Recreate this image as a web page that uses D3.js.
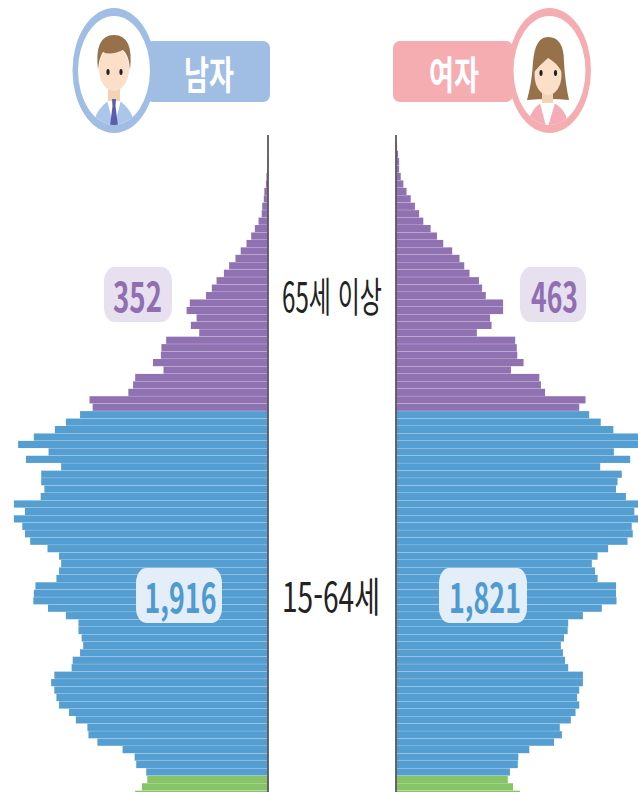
<!DOCTYPE html>
<html lang="ko">
<head>
<meta charset="utf-8">
<script src="https://cdn.jsdelivr.net/npm/d3@7"></script>
<style>html,body{margin:0;padding:0;background:#fff;overflow:hidden}svg{display:block}</style>
</head>
<body>
<script>
// Population by single row of the pyramid (thousands), top of the chart to bottom.
const maleOld = [0,1,1,3,4,7,8,11,12,18,25,32,41,52,62,74,84,98,107,118,149,155,136,147,131,194,203,204,219,199,253,257,266,340,334];
const maleWork = [358,385,406,446,476,418,461,394,432,432,426,433,484,463,484,468,463,453,420,398,394,398,403,443,446,447,419,385,361,361,355,352,358,372,374,407,413,407,403,398,379,366,344,342,325,277,254,251,232];
const maleYoung = [230,240,253];
const femaleOld = [2,4,6,6,9,14,20,28,36,44,52,66,78,90,107,121,130,140,158,164,171,204,204,179,182,154,227,230,231,243,219,273,276,284,361,349];
const femaleWork = [368,390,414,470,480,415,446,389,430,422,419,438,470,454,470,449,451,441,404,384,373,379,384,419,419,420,392,356,328,327,320,314,318,322,328,356,356,349,345,349,342,333,312,316,301,254,233,232,217];
const femaleYoung = [213,223,236];
const maleLabel = "남자", femaleLabel = "여자";
const groupLabels = ["65세 이상", "15-64세"];
const maleTotals = ["352", "1,916"];
const femaleTotals = ["463", "1,821"];

(function(){
const W = 638, H = 792;
const colors = {old:"#9071b2", work:"#549ed2", young:"#87c467"};
const svg = d3.select("body").append("svg").attr("width",W).attr("height",H);
const font = "'Noto Sans CJK KR','Noto Sans',sans-serif";

const maleOldPad = [0].concat(maleOld);
const mk = (o,w,y)=>[...o.map(v=>({v,g:"old"})),...w.map(v=>({v,g:"work"})),...y.map(v=>({v,g:"young"}))];
const maleRows = mk(maleOldPad,maleWork,maleYoung);
const femaleRows = mk(femaleOld,femaleWork,femaleYoung);

const pitch = 7.44, yTop = 411 - femaleOld.length*pitch;
const y = d3.scaleBand().domain(d3.range(maleRows.length))
  .range([yTop, yTop + maleRows.length*pitch]).paddingInner(0.035).paddingOuter(0);
const xM = d3.scaleLinear().domain([0,500]).range([268, 268-262.5]);
const xF = d3.scaleLinear().domain([0,500]).range([396, 396+262.5]);

svg.append("g").selectAll("rect").data(maleRows).join("rect")
  .attr("x",d=>xM(d.v)).attr("y",(d,i)=>y(i)).attr("width",d=>xM(0)-xM(d.v))
  .attr("height",y.bandwidth()).attr("fill",d=>colors[d.g]);
svg.append("g").selectAll("rect").data(femaleRows).join("rect")
  .attr("x",xF(0)).attr("y",(d,i)=>y(i)).attr("width",d=>xF(d.v)-xF(0))
  .attr("height",y.bandwidth()).attr("fill",d=>colors[d.g]);

[xM(0),xF(0)].forEach(x=>svg.append("line").attr("x1",x).attr("x2",x).attr("y1",135).attr("y2",H)
  .attr("stroke","#5c5660").attr("stroke-width",1.8));

// Text stretched to a target box, as the reference picture is stretched vertically
function fit(str,cx,cy,targetW,size,fill,weight,sy){
  const t = svg.append("text").text(str).attr("font-family",font).attr("font-size",size)
    .attr("font-weight",weight).attr("fill",fill).attr("text-anchor","middle").attr("dominant-baseline","central");
  const b = t.node().getBBox();
  t.attr("transform",`translate(${cx},${cy}) scale(${targetW/b.width},${sy})`);
}
function badge(x,yy,w,h,fill){
  svg.append("rect").attr("x",x).attr("y",yy).attr("width",w).attr("height",h).attr("rx",10).attr("ry",15).attr("fill",fill);
}
badge(104,267,68,55,"#e7e0ee");
badge(520,267,66,55,"#e7e0ee");
badge(136,568,86,55,"#e3eef8");
badge(439,568,88,55,"#e3eef8");
fit(maleTotals[0],137.5,294,49,27,"#8f6fb1",700,1.5);
fit(femaleTotals[0],554.5,294,47,27,"#8f6fb1",700,1.5);
fit(maleTotals[1],180.5,595,72,27,"#4f9bd0",700,1.5);
fit(femaleTotals[1],485,595,72,27,"#4f9bd0",700,1.5);
fit(groupLabels[0],332,294,100,27,"#222",400,1.5);
fit(groupLabels[1],331,595,98,27,"#222",400,1.5);

// Header
const blue="#a0bde3", pink="#f6adb2", skin="#fbdfc8", hair="#96714a";
svg.append("rect").attr("x",146).attr("y",41).attr("width",124).attr("height",61).attr("rx",7).attr("fill",blue);
svg.append("rect").attr("x",393).attr("y",41).attr("width",120).attr("height",61).attr("rx",7).attr("fill",pink);
fit(maleLabel,209,72,50,25,"#fff",700,1.55);
fit(femaleLabel,454,72,50,25,"#fff",700,1.55);

const defs = svg.append("defs");
function ring(id,cx,col){
  svg.append("ellipse").attr("cx",cx).attr("cy",70.5).attr("rx",41.5).attr("ry",62.5).attr("fill",col);
  svg.append("ellipse").attr("cx",cx).attr("cy",70.5).attr("rx",36).attr("ry",54.5).attr("fill","#fff");
  defs.append("clipPath").attr("id",id).append("ellipse").attr("cx",cx).attr("cy",70.5).attr("rx",36).attr("ry",54.5);
  return svg.append("g").attr("clip-path",`url(#${id})`);
}
const m = ring("cm",114,blue);
m.append("path").attr("d","M92,135 L94,121 Q97,109 108,101 L120,101 Q131,109 134,121 L136,135 Z").attr("fill","#aac6ea");
m.append("path").attr("d","M107,100 L114,128 L121,100 Z").attr("fill","#fff");
m.append("rect").attr("x",108).attr("y",86).attr("width",12).attr("height",15).attr("fill","#f4d2b6");
m.append("ellipse").attr("cx",114).attr("cy",69).attr("rx",15).attr("ry",22).attr("fill",skin);
m.append("path").attr("d","M98,70 Q94,35 114,35 Q134,35 130,70 Q129,55 123,50 Q110,56 103,52 Q99,58 98,70 Z").attr("fill",hair);
m.append("path").attr("d","M112,99 L116,99 L115.5,106 L118,126 L114,132 L110,126 L112.5,106 Z").attr("fill","#5b5ea8");
[108,121].forEach(x=>m.append("ellipse").attr("cx",x).attr("cy",72).attr("rx",1.6).attr("ry",3).attr("fill","#222"));

const f = ring("cf",549.5,pink);
f.append("path").attr("d","M527,100 Q532,82 533,62 Q535,37 548,37 Q564,37 564,62 Q565,82 569,100 Q560,99 550,99 Q537,99 527,100 Z").attr("fill",hair);
f.append("path").attr("d","M527,135 L530,116 Q535,106 541,103 L554,103 Q562,107 566,116 L569,135 Z").attr("fill","#f4adb7");
f.append("path").attr("d","M540,103 L547,130 L555,103 Z").attr("fill","#fff");
f.append("rect").attr("x",542).attr("y",88).attr("width",11).attr("height",15).attr("fill","#f4d2b6");
f.append("ellipse").attr("cx",548).attr("cy",75).attr("rx",13.5).attr("ry",20).attr("fill",skin);
f.append("path").attr("d","M534,72 Q534,52 548,52 Q562,52 562,72 Q556,62 548,58 Q541,64 534,72 Z").attr("fill",hair);
[541,555.5].forEach(x=>f.append("ellipse").attr("cx",x).attr("cy",73).attr("rx",1.6).attr("ry",3).attr("fill","#222"));
})();
</script>
</body>
</html>
